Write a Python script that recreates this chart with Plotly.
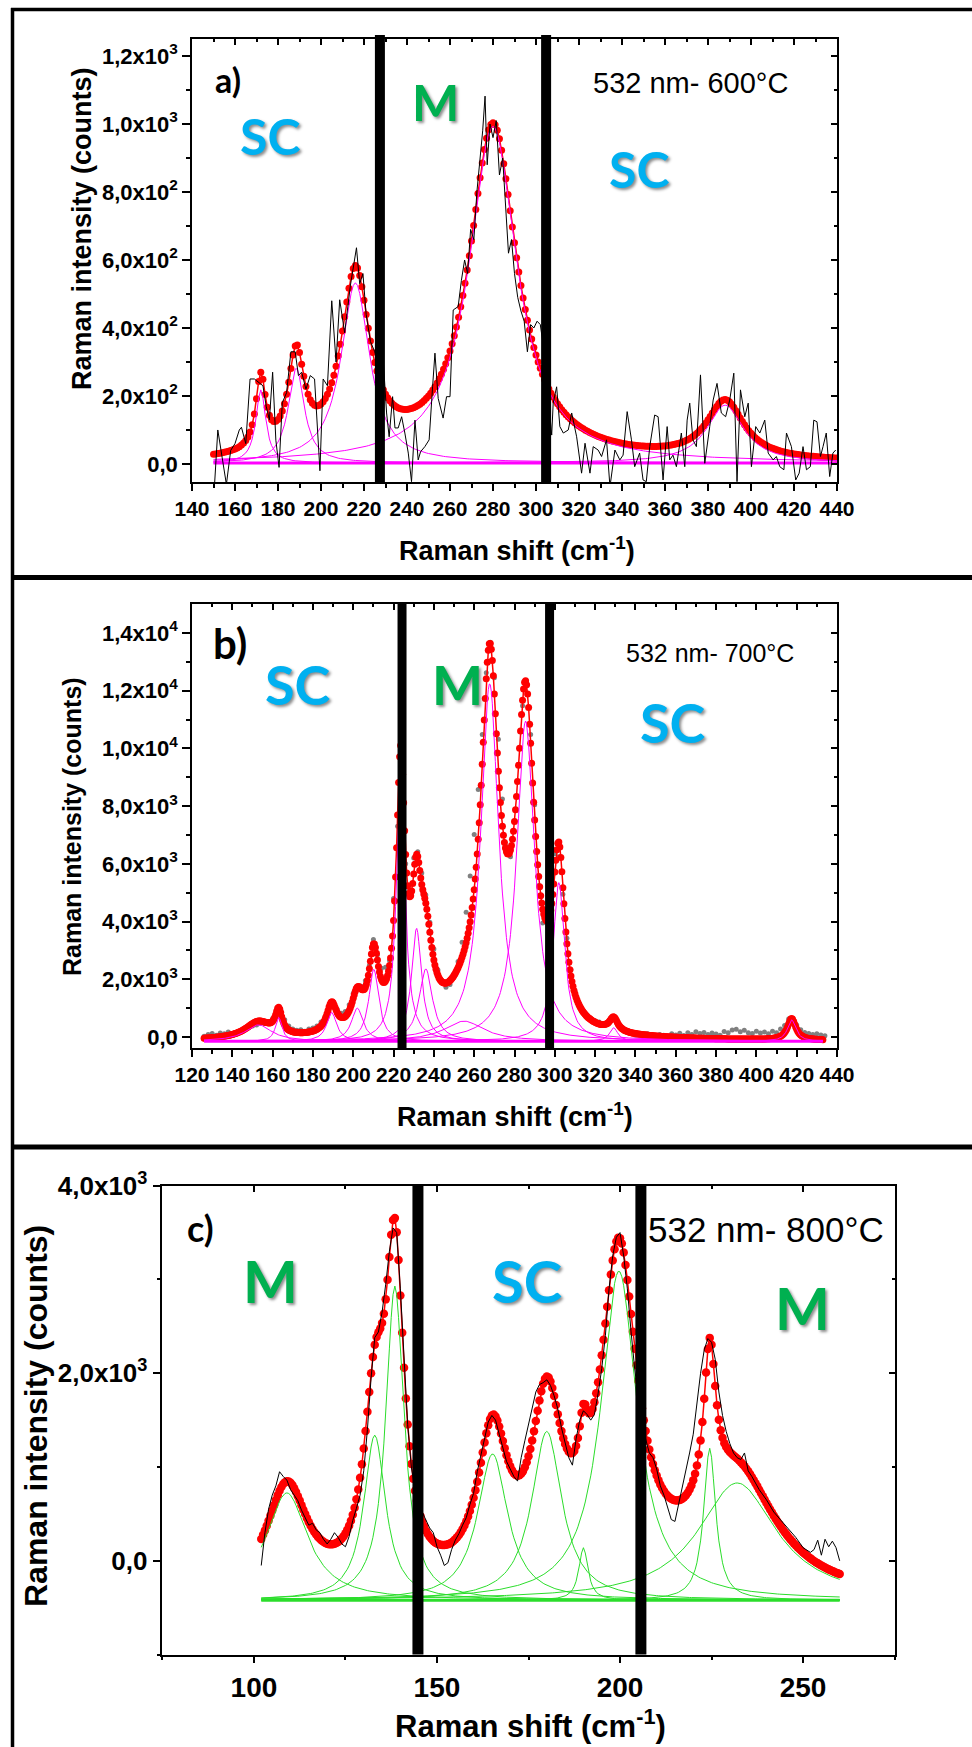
import numpy as np
import plotly.graph_objects as go

W, H = 972, 1747

# ---------------- Panel a) 532 nm - 600 °C ----------------
a_centers = [172.0, 188.5, 216.0, 280.0, 388.0]
a_heights = [215, 280, 530, 990, 170]
a_hwhm = [2.8, 4.5, 8.0, 13.5, 10.5]
a_offset = 3
a_fit_span = [150, 440, 1.0]
a_meas_x = [150.5, 152, 154, 156, 158, 160, 162, 163, 165, 167, 169, 171, 173, 174.5, 176, 177.5, 179,
            180.5, 182, 184, 186, 188, 189.5, 191, 193, 195, 197, 199.5, 201, 203, 205, 207, 208.7,
            211, 213.7, 216.5, 218, 219.5, 221, 223, 225, 227, 228.9, 230.5, 231.7, 233.3, 234.4,
            235.9, 237.5, 239.0, 240.6, 242.1, 243.7, 245.2, 246.3, 248.3, 250.3, 251.9, 253.0,
            254.5, 256.8, 258.4, 260.0, 261.5, 263.8, 265.3, 266.8, 268.2, 269.6, 271.1, 272.5,
            274.0, 275.2, 276.3, 277.3, 278.6, 280.0, 281.5, 283.0, 284.5, 286.0, 287.2, 288.6,
            290.0, 291.5, 293.0, 294.5, 296.0, 297.5, 299.0, 300.5, 302.0, 303.8, 305.7, 307.3,
            308.0, 309.6, 311.1, 312.7, 315.0, 316.6, 318.9, 321.2, 322.8, 325.1, 326.6, 328.9,
            330.5, 332.8, 334.4, 336.7, 339.0, 340.5, 342.4, 344.4, 345.9, 348.2, 349.8, 351.3,
            352.9, 355.2, 356.8, 359.1, 361.0, 362.2, 363.7, 365.3, 367.6, 369.2, 370.3, 371.5,
            373.0, 374.6, 376.5, 378.5, 380.8, 382.4, 384.2, 386.2, 388.2, 390.1, 392.0, 393.5,
            395.1, 397.1, 398.7, 400.2, 402.2, 404.1, 406.4, 408.0, 410.3, 411.8, 413.4, 415.3,
            416.5, 418.8, 420.8, 422.4, 424.2, 425.8, 427.6, 429.2, 430.7, 432.3, 433.5, 435.0,
            436.6, 438.1, 439.4]
a_meas_y = [-60, 100, 20, -60, 40, 60, 100, 108, 60, 250, 250, 240, 230, 170, 130, 270, 70,
            -10, 180, 210, 330, 330, 260, 270, 220, 260, 250, -20, 250, 230, 480, 300, 483,
            386, 526, 636, 530, 560, 440, 360, 330, 280, 311, 150, 80, 198, 106,
            106, 139, 91, 32, -52, 129, 12, 36, 51, 71, 227, 326,
            193, 135, 198, 198, 453, 463, 540, 600, 560, 690, 660, 800,
            900, 980, 1082, 880, 1000, 960, 1010, 850, 900, 740, 620, 660,
            560, 490, 450, 420, 330, 410, 400, 420, 410, 330, 208, 85,
            179, 227, 110, 91, 100, 150, 80, -27, 61, -27, 51, 41,
            22, 71, -67, 41, 12, 26, 154, 71, -8, 32, -47, -52,
            51, 144, 139, -47, 110, 12, 26, -8, 91, -8, 129, 179,
            71, 51, 262, 2, 110, 188, 237, 150, 139, 188, 267, -52,
            218, 139, 179, -8, 110, 91, 129, 32, 12, 22, -8, -17,
            91, 51, -47, -27, 51, -17, -8, 129, 124, 22, 51, 91,
            -37, 32, 41]
a_bounds = [227.4, 304.7]
a_regions = ["SC", "M", "SC"]
a_region_colors = ["#00B0F0", "#00B050", "#00B0F0"]
a_xticks = [140, 160, 180, 200, 220, 240, 260, 280, 300, 320, 340, 360, 380, 400, 420, 440]
a_yticks = [0, 200, 400, 600, 800, 1000, 1200]
a_ytext = ["0,0", "2,0x10<sup>2</sup>", "4,0x10<sup>2</sup>", "6,0x10<sup>2</sup>",
           "8,0x10<sup>2</sup>", "1,0x10<sup>3</sup>", "1,2x10<sup>3</sup>"]

# ---------------- Panel b) 532 nm - 700 °C ----------------
b_centers = [153, 163, 189.3, 202, 210.2, 223.5, 231.4, 236, 255, 267.7, 285.5, 302, 329.2, 417.5]
b_heights = [570, 830, 1000, 1150, 2500, 9000, 3918, 2510, 700, 12400, 11100, 5500, 470, 745]
b_hwhm = [8, 2, 3, 3.5, 3, 2.6, 3, 4, 12, 5.3, 5.3, 3.5, 2.5, 2.5]
b_offset = -150
b_fit_span = [126.0, 433, 0.5]
b_meas_x = list(range(126, 436, 2))
b_meas_y = [30, 90, 120, 60, 140, 110, 170, 90, 150, 200, 260, 320, 380, 420, 480, 470, 540, 640,
            880, 960, 600, 380, 280, 230, 250, 200, 280, 310, 380, 520, 700, 1080, 1220, 960,
            820, 880, 1120, 1520, 1680, 1760, 1950, 2480, 3380, 2850, 2380, 2420, 2650, 4800,
            7300, 9000, 6000, 5100, 6200, 6420, 5680, 4920, 3980, 3050, 2320, 1900, 1720,
            1820, 2080, 2620, 3280, 4320, 5580, 7020, 8580, 10480, 12620, 13680, 12450, 10320,
            8250, 6600, 6250, 7480, 9420, 11480, 12200, 10480, 8050, 5250, 3950, 4100, 4800,
            6350, 6250, 4950, 3420, 2330, 1580, 1180, 920, 760, 620, 560, 520, 430, 480, 610,
            640, 420, 260, 180, 120, 60, 90, 40, 110, 80, 30, 90, 60, 20, 110, 70, 130, 50, 150,
            90, 180, 120, 160, 90, 140, 100, 60, 190, 150, 240, 270, 180, 230, 150, 120, 200,
            140, 170, 110, 200, 150, 280, 400, 620, 640, 420, 250, 160, 120, 90, 110, 70, 40]
b_bounds = [224.2, 297.4]
b_regions = ["SC", "M", "SC"]
b_region_colors = ["#00B0F0", "#00B050", "#00B0F0"]
b_xticks = [120, 140, 160, 180, 200, 220, 240, 260, 280, 300, 320, 340, 360, 380, 400, 420, 440]
b_yticks = [0, 2000, 4000, 6000, 8000, 10000, 12000, 14000]
b_ytext = ["0,0", "2,0x10<sup>3</sup>", "4,0x10<sup>3</sup>", "6,0x10<sup>3</sup>",
           "8,0x10<sup>3</sup>", "1,0x10<sup>4</sup>", "1,2x10<sup>4</sup>", "1,4x10<sup>4</sup>"]

# ---------------- Panel c) 532 nm - 800 °C ----------------
c_centers = [109, 133, 138.5, 165.2, 180, 190, 199.7, 224.5, 232]
c_heights = [1144, 1760, 3350, 1560, 1800, 560, 3510, 1620, 1250]
c_hwhm = [6.9, 3.6, 3.0, 5.0, 5.0, 1.5, 6.0, 2.0, 13.0]
c_offset = -420
c_fit_span = [102, 260, 0.5]
c_meas_x = [102, 103, 104, 105, 106, 107, 108, 109, 110, 111, 112, 113, 114, 115, 116, 117, 118,
            119, 120, 121, 122, 123, 124, 125, 126, 127, 128, 129, 130, 131, 132, 133, 134, 135,
            136, 137, 138, 139, 140, 141, 142, 143, 144, 145, 146, 147, 148, 149, 150, 151, 152,
            153, 154, 155, 156, 157, 158, 159, 160, 161, 162, 163, 164, 165, 166, 167, 168, 169,
            170, 171, 172, 173, 174, 175, 176, 177, 178, 179, 180, 181, 182, 183, 184, 185, 186,
            187, 188, 189, 190, 191, 192, 193, 194, 195, 196, 197, 198, 199, 200, 201, 202, 203,
            204, 205, 206, 207, 208, 209, 210, 211, 212, 213, 214, 215, 216, 217, 218, 219, 220,
            221, 222, 223, 224, 225, 226, 227, 228, 229, 230, 231, 232, 233, 234, 235, 236, 238,
            240, 242, 244, 246, 248, 250, 251, 252, 253, 254, 255, 256, 257, 258, 259, 260]
c_meas_y = [-50, 300, 550, 700, 800, 950, 900, 860, 760, 700, 640, 540, 450, 380, 400, 330, 300,
            230, 180, 230, 300, 250, 180, 150, 260, 430, 560, 700, 960, 1400, 1950, 2380, 2440, 2650,
            2950, 3300, 3550, 3500, 2900, 2150, 1450, 1000, 760, 600, 520, 430, 350, 300, 150, 60, -50,
            -20, 120, 220, 290, 380, 460, 600, 720, 950, 1120, 1320, 1480, 1550, 1500, 1350, 1200, 1060,
            980, 900, 850, 1100, 1280, 1450, 1640, 1800, 1880, 1900, 1930, 1870, 1760, 1620, 1420, 1250, 1100,
            1020, 1300, 1500, 1600, 1560, 1500, 1560, 1780, 2050, 2400, 2900, 3250, 3450, 3500, 3250, 2900, 2450,
            2050, 1750, 1500, 1300, 1150, 1100, 980, 800, 700, 560, 440, 420, 600, 800, 950, 1150, 1350,
            1700, 2000, 2250, 2370, 2330, 2150, 1800, 1550, 1380, 1250, 1150, 1100, 1080, 1150, 960, 900, 760,
            650, 520, 430, 350, 250, 140, 110, 90, 120, 220, 60, 230, 150, 210, 140, 0]
c_bounds = [144.8, 205.7]
c_regions = ["M", "SC", "M"]
c_region_colors = ["#00B050", "#00B0F0", "#00B050"]
c_xticks = [100, 150, 200, 250]
c_yticks = [0, 2000, 4000]
c_ytext = ["0,0", "2,0x10<sup>3</sup>", "4,0x10<sup>3</sup>"]

panel_titles = ["a)", "b)", "c)"]
panel_notes = ["532 nm- 600°C", "532 nm- 700°C", "532 nm- 800°C"]
x_title = "Raman shift (cm<sup>-1</sup>)"
y_title = "Raman intensity (counts)"


def lorentz(x, c, a, w):
    return a / (1.0 + ((x - c) / w) ** 2)


def fit_model(centers, heights, hwhm, offset, span):
    x = np.arange(span[0], span[1] + span[2] / 2, span[2])
    comps = [offset + lorentz(x, c, a, w) for c, a, w in zip(centers, heights, hwhm)]
    total = offset + sum(lorentz(x, c, a, w) for c, a, w in zip(centers, heights, hwhm))
    return x, comps, total


fig = go.Figure()
RED = "#FF0000"
MAG = "#FF00FF"
GRN = "#2BDD2B"


def add_panel(xa, ya, oxa, oya, centers, heights, hwhm, offset, span, mx, my, comp_color,
              meas_mode, marker_size):
    x, comps, total = fit_model(centers, heights, hwhm, offset, span)
    if meas_mode == "markers":
        fig.add_trace(go.Scatter(x=mx, y=my, mode="markers", xaxis=xa, yaxis=ya,
                                 marker=dict(color="#808080", size=5), hoverinfo="skip"))
    fig.add_trace(go.Scatter(x=x, y=total, mode="lines+markers", xaxis=xa, yaxis=ya,
                             line=dict(color=RED, width=1.5),
                             marker=dict(color=RED, size=marker_size), hoverinfo="skip"))
    for comp in comps:
        fig.add_trace(go.Scatter(x=x, y=comp, mode="lines", xaxis=xa, yaxis=ya,
                                 line=dict(color=comp_color, width=1), hoverinfo="skip"))
    fig.add_trace(go.Scatter(x=x, y=np.full_like(x, offset, dtype=float), mode="lines",
                             xaxis=xa, yaxis=ya, line=dict(color=comp_color, width=3),
                             hoverinfo="skip"))
    if meas_mode == "lines":
        fig.add_trace(go.Scatter(x=mx, y=my, mode="lines", xaxis=xa, yaxis=ya,
                                 line=dict(color="black", width=1), hoverinfo="skip"))
    # invisible trace carrying the mirrored (inner tick) axes
    fig.add_trace(go.Scatter(x=x, y=total, mode="lines", xaxis=oxa, yaxis=oya,
                             line=dict(color="rgba(0,0,0,0)", width=0), hoverinfo="skip"))


add_panel("x", "y", "x4", "y4", a_centers, a_heights, a_hwhm, a_offset, a_fit_span,
          a_meas_x, a_meas_y, MAG, "lines", 7)
add_panel("x2", "y2", "x5", "y5", b_centers, b_heights, b_hwhm, b_offset, b_fit_span,
          b_meas_x, b_meas_y, MAG, "markers", 7)
add_panel("x3", "y3", "x6", "y6", c_centers, c_heights, c_hwhm, c_offset, c_fit_span,
          c_meas_x, c_meas_y, GRN, "lines", 8.5)

TF = "Liberation Sans, Arial, sans-serif"


def px(v):
    return v / W


def py(v):
    return 1 - v / H


def minor_between(ticks, extra_low=None, extra_high=None):
    vals = [(ticks[i] + ticks[i + 1]) / 2 for i in range(len(ticks) - 1)]
    if extra_low is not None:
        vals = [extra_low] + vals
    if extra_high is not None:
        vals = vals + [extra_high]
    return vals


def main_x(dom, rng, tv, fs, minor_vals):
    return dict(domain=dom, range=rng, tickmode="array", tickvals=tv, ticktext=[str(t) for t in tv],
                ticks="outside", ticklen=7, tickwidth=1.5, tickcolor="black",
                showline=True, linewidth=1.5, linecolor="black", mirror=True,
                showgrid=False, zeroline=False, fixedrange=True, automargin=False,
                tickfont=dict(family=TF, size=fs, color="black", weight="bold"),
                minor=dict(tickmode="array", tickvals=minor_vals, ticks="outside", ticklen=4,
                           tickwidth=1.5, tickcolor="black", showgrid=False))


def main_y(dom, rng, tv, tt, fs, minor_vals):
    return dict(domain=dom, range=rng, tickmode="array", tickvals=tv, ticktext=tt,
                ticks="outside", ticklen=8, tickwidth=1.5, tickcolor="black",
                showline=True, linewidth=1.5, linecolor="black", mirror=True,
                showgrid=False, zeroline=False, fixedrange=True, automargin=False,
                tickfont=dict(family=TF, size=fs, color="black", weight="bold"),
                minor=dict(tickmode="array", tickvals=minor_vals, ticks="outside", ticklen=4,
                           tickwidth=1.5, tickcolor="black", showgrid=False))


def over_x(base, anchor, rng, tv, minor_vals):
    return dict(overlaying=base, side="top", anchor=anchor, range=rng, tickmode="array",
                tickvals=tv, ticks="inside", ticklen=6, tickwidth=1.5, tickcolor="black",
                showticklabels=False, showline=False, showgrid=False, zeroline=False,
                fixedrange=True, automargin=False,
                minor=dict(tickmode="array", tickvals=minor_vals, ticks="inside", ticklen=3,
                           tickwidth=1.5, tickcolor="black", showgrid=False))


def over_y(base, anchor, rng, tv, minor_vals):
    return dict(overlaying=base, side="right", anchor=anchor, range=rng, tickmode="array",
                tickvals=tv, ticks="inside", ticklen=6, tickwidth=1.5, tickcolor="black",
                showticklabels=False, showline=False, showgrid=False, zeroline=False,
                fixedrange=True, automargin=False,
                minor=dict(tickmode="array", tickvals=minor_vals, ticks="inside", ticklen=3,
                           tickwidth=1.5, tickcolor="black", showgrid=False))


# plot frames (pixel positions)
A_X, A_Y = [px(192), px(837)], [py(482), py(39)]
B_X, B_Y = [px(192), px(837)], [py(1048), py(604)]
C_X, C_Y = [px(162.4), px(894.6)], [py(1654.6), py(1185.7)]
A_XR, A_YR = [140, 440], [-53, 1250]
B_XR, B_YR = [120, 440], [-381, 15005]
C_XR, C_YR = [75, 275], [-1000, 4000]

a_xminor = minor_between(a_xticks)
a_yminor = minor_between(a_yticks)
b_xminor = minor_between(b_xticks)
b_yminor = minor_between(b_yticks)
c_xminor = minor_between(c_xticks, 75, 275)
c_yminor = minor_between(c_yticks, -1000)

layout = dict(
    width=W, height=H, margin=dict(l=0, r=0, t=0, b=0, pad=0, autoexpand=False), autosize=False,
    paper_bgcolor="white", plot_bgcolor="rgba(0,0,0,0)", showlegend=False,
    xaxis=main_x(A_X, A_XR, a_xticks, 21, a_xminor),
    yaxis=main_y(A_Y, A_YR, a_yticks, a_ytext, 22, a_yminor),
    xaxis2=main_x(B_X, B_XR, b_xticks, 21, b_xminor),
    yaxis2=main_y(B_Y, B_YR, b_yticks, b_ytext, 22, b_yminor),
    xaxis3=main_x(C_X, C_XR, c_xticks, 28, c_xminor),
    yaxis3=main_y(C_Y, C_YR, c_yticks, c_ytext, 26, c_yminor),
    xaxis4=over_x("x", "y", A_XR, a_xticks, a_xminor),
    yaxis4=over_y("y", "x", A_YR, a_yticks, a_yminor),
    xaxis5=over_x("x2", "y2", B_XR, b_xticks, b_xminor),
    yaxis5=over_y("y2", "x2", B_YR, b_yticks, b_yminor),
    xaxis6=over_x("x3", "y3", C_XR, c_xticks, c_xminor),
    yaxis6=over_y("y3", "x3", C_YR, c_yticks, c_yminor),
)
layout["xaxis"]["anchor"] = "y"
layout["yaxis"]["anchor"] = "x"
layout["xaxis2"]["anchor"] = "y2"
layout["yaxis2"]["anchor"] = "x2"
layout["xaxis3"]["anchor"] = "y3"
layout["yaxis3"]["anchor"] = "x3"
fig.update_layout(**layout)

shapes = []
# region separators (thick black bars)
for xref, bounds, top, w in (("x", a_bounds, 1.009, 10), ("x2", b_bounds, 1.0, 9),
                             ("x3", c_bounds, 1.0, 11)):
    yref = {"x": "y", "x2": "y2", "x3": "y3"}[xref] + " domain"
    for b in bounds:
        shapes.append(dict(type="line", xref=xref, yref=yref, x0=b, x1=b, y0=0, y1=top,
                           line=dict(color="black", width=w), layer="above"))
# outer box lines
shapes.append(dict(type="line", xref="paper", yref="paper", x0=px(12.5), x1=px(12.5),
                   y0=0, y1=py(8), line=dict(color="black", width=3.5)))
shapes.append(dict(type="line", xref="paper", yref="paper", x0=px(11), x1=1,
                   y0=py(9.5), y1=py(9.5), line=dict(color="black", width=3.5)))
shapes.append(dict(type="line", xref="paper", yref="paper", x0=px(11), x1=1,
                   y0=py(577.5), y1=py(577.5), line=dict(color="black", width=5)))
shapes.append(dict(type="line", xref="paper", yref="paper", x0=px(11), x1=1,
                   y0=py(1147), y1=py(1147), line=dict(color="black", width=5)))
fig.update_layout(shapes=shapes)

ann = []


def add_text(text, x, y, size, color="black", family=TF, weight="normal", angle=0, shadow=None):
    f = dict(family=family, size=size, color=color, weight=weight)
    if shadow:
        f["shadow"] = shadow
    ann.append(dict(text=text, x=px(x), y=py(y), xref="paper", yref="paper", showarrow=False,
                    xanchor="center", yanchor="middle", textangle=angle, font=f))


SH = "2px 2px 3px rgba(0,0,0,0.45)"
LBL = "Lato, Open Sans, sans-serif"

# axis titles
add_text(y_title, 82, 229, 27, weight="bold", angle=-90)
add_text(x_title, 517, 549, 27, weight="bold")
add_text(y_title, 72, 827, 25, weight="bold", angle=-90)
add_text(x_title, 515, 1115, 27, weight="bold")
add_text(y_title, 36, 1416, 32, weight="bold", angle=-90)
add_text(x_title, 530, 1724, 31, weight="bold")

# panel letters
add_text(panel_titles[0], 228, 79, 34, family=LBL, weight="bold")
add_text(panel_titles[1], 230, 643, 42, family=LBL, weight="bold")
add_text(panel_titles[2], 200, 1228, 36, family=LBL, weight="bold")

# conditions
add_text(panel_notes[0], 690, 83, 29)
add_text(panel_notes[1], 710, 653, 25)
add_text(panel_notes[2], 766, 1229, 35)

# phase region labels
for lbl, col, (x, y) in zip(a_regions, a_region_colors, [(270, 136), (435, 102), (639, 169)]):
    add_text(lbl, x, y, 50, color=col, family=LBL, weight="bold", shadow=SH)
for lbl, col, (x, y) in zip(b_regions, b_region_colors, [(298, 685), (457, 685), (673, 722)]):
    add_text(lbl, x, y, 54, color=col, family=LBL, weight="bold", shadow=SH)
for lbl, col, (x, y) in zip(c_regions, c_region_colors, [(270, 1280), (527, 1280), (802, 1307)]):
    add_text(lbl, x, y, 58, color=col, family=LBL, weight="bold", shadow=SH)

fig.update_layout(annotations=ann)
fig.write_html(
    "out.html",
    config={"displayModeBar": False},
    post_script=(
        "var d=document.getElementById('{plot_id}');"
        "d.style.position='fixed';d.style.left='0px';d.style.top='0px';"
        "document.body.style.margin='0';document.body.style.padding='0';"
        "document.body.style.overflow='hidden';"
        "document.documentElement.style.overflow='hidden';"
    ),
)
